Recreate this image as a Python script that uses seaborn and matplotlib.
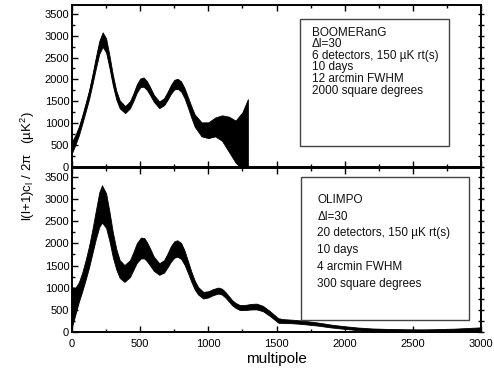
import matplotlib
matplotlib.use("Agg")
import matplotlib.pyplot as plt
import seaborn as sns
import numpy as np
import pandas as pd
from matplotlib.patches import Rectangle
from matplotlib.ticker import MultipleLocator

# ---------------- data ----------------
# BOOMERanG forecast band: centre and half-width, uK^2
boom_l = [0, 25, 50, 75, 100, 125, 150, 175, 200, 225, 250, 275, 300, 325, 350,
          390, 425, 450, 475, 500, 525, 550, 575, 600, 640, 675, 700, 725, 750,
          775, 800, 825, 850, 875, 900, 950, 1000, 1050, 1100, 1150, 1200, 1250, 1290]
boom_c = [450, 620, 820, 1080, 1360, 1650, 2000, 2380, 2730, 2910, 2780, 2400, 1980, 1640, 1430,
          1310, 1420, 1590, 1790, 1920, 1940, 1860, 1720, 1570, 1420, 1490, 1620, 1770, 1880,
          1900, 1840, 1690, 1480, 1260, 1060, 860, 840, 915, 890, 750, 580, 600, 625]
boom_e = [130, 110, 100, 95, 95, 100, 110, 125, 145, 165, 160, 140, 120, 100, 90,
          80, 80, 85, 95, 100, 105, 100, 90, 80, 75, 80, 90, 100, 110,
          115, 115, 115, 120, 130, 140, 160, 180, 215, 290, 400, 480, 650, 925]

# OLIMPO forecast band
olim_l = [0, 25, 50, 75, 100, 125, 150, 175, 200, 220, 250, 275, 300, 325, 350, 385,
          425, 450, 475, 505, 530, 550, 575, 600, 640, 675, 700, 725, 750, 772, 800,
          825, 850, 875, 900, 925, 963, 1000, 1035, 1073, 1100, 1125, 1150, 1175, 1200,
          1232, 1275, 1310, 1354, 1400, 1450, 1513, 1550, 1600, 1650, 1700, 1800, 1900,
          2000, 2100, 2200, 2300, 2400, 2500, 2600, 2700, 2800, 2900, 3000]
olim_c = [560, 700, 900, 1130, 1400, 1700, 2050, 2420, 2760, 2890, 2740, 2380, 1960, 1640, 1420, 1320,
          1430, 1600, 1780, 1895, 1890, 1810, 1680, 1540, 1420, 1480, 1610, 1760, 1860, 1885, 1830,
          1680, 1470, 1250, 1060, 930, 830, 850, 900, 935, 910, 840, 750, 660, 600,
          550, 555, 570, 575, 530, 420, 260, 245, 240, 230, 215, 180, 135,
          100, 70, 50, 40, 35, 30, 30, 35, 40, 50, 60]
olim_e = [450, 300, 220, 210, 220, 240, 270, 320, 390, 420, 390, 330, 280, 230, 200, 190,
          190, 200, 220, 235, 230, 215, 190, 160, 130, 140, 155, 175, 185, 185, 180,
          160, 135, 115, 100, 85, 75, 70, 68, 68, 66, 63, 60, 58, 56,
          56, 58, 62, 65, 60, 55, 50, 45, 40, 40, 38, 35, 32,
          30, 30, 30, 30, 30, 30, 30, 32, 35, 40, 45]

boom_text = ["BOOMERanG", "\u0394l=30", "6 detectors, 150 \u00b5K rt(s)", "10 days",
             "12 arcmin FWHM", "2000 square degrees"]
olim_text = ["OLIMPO", "\u0394l=30", "20 detectors, 150 \u00b5K rt(s)", "10 days",
             "4 arcmin FWHM", "300 square degrees"]

x_ticks = [0, 500, 1000, 1500, 2000, 2500, 3000]
y_ticks = [0, 500, 1000, 1500, 2000, 2500, 3000, 3500]

# ---------------- style ----------------
sns.set_theme(style="ticks")
plt.rcParams["font.family"] = ["Liberation Sans", "DejaVu Sans"]
plt.rcParams["mathtext.default"] = "regular"

W, H = 494, 371
fig = plt.figure(figsize=(W / 100, H / 100), dpi=100)


def px_axes(x0, y0, x1, y1):
    return fig.add_axes([x0 / W, 1 - y1 / H, (x1 - x0) / W, (y1 - y0) / H])


ax_top = px_axes(72, 5, 481, 167)
ax_bot = px_axes(72, 168, 481, 332)


def draw_panel(ax, l, c, e, lines, box, text_x, text_y0, text_dy, show_x):
    df = pd.DataFrame({"l": l, "c": c, "e": e})
    df["lo"] = df["c"] - df["e"]
    df["hi"] = df["c"] + df["e"]
    ax.fill_between(df["l"], df["lo"], df["hi"], color="black", linewidth=0.6,
                    edgecolor="black", zorder=2)
    sns.lineplot(data=df, x="l", y="c", ax=ax, color="black", linewidth=0.8, zorder=3)
    ax.set_xlim(0, 3000)
    ax.set_ylim(0, 3700)
    ax.set_xlabel("")
    ax.set_ylabel("")
    ax.xaxis.set_major_locator(MultipleLocator(500))
    ax.xaxis.set_minor_locator(MultipleLocator(250))
    ax.set_yticks(y_ticks)
    ax.yaxis.set_minor_locator(MultipleLocator(250))
    ax.set_xticks(x_ticks)
    ax.tick_params(axis="both", which="both", direction="in", top=True, right=False,
                   colors="black", labelsize=8, width=1.0)
    ax.tick_params(axis="both", which="major", length=4.5)
    ax.tick_params(axis="both", which="minor", length=2.5)
    ax.tick_params(axis="y", pad=2)
    ax.tick_params(axis="x", pad=5, labelbottom=show_x)
    for s in ax.spines.values():
        s.set_linewidth(1.4)
        s.set_color("black")
    # right side ticks crossing the spine
    ax2 = ax.twinx()
    ax2.set_ylim(0, 3700)
    ax2.set_yticks(y_ticks)
    ax2.yaxis.set_minor_locator(MultipleLocator(250))
    ax2.tick_params(axis="y", which="both", direction="inout", labelright=False,
                    width=1.0, colors="black")
    ax2.tick_params(axis="y", which="major", length=5)
    ax2.tick_params(axis="y", which="minor", length=4)
    for s in ax2.spines.values():
        s.set_visible(False)
    bx0, by0, bx1, by1 = box
    ax.add_patch(Rectangle((bx0, by0), bx1 - bx0, by1 - by0, transform=ax.transAxes,
                           facecolor="white", edgecolor="#444444", linewidth=1.0, zorder=4))
    for i, t in enumerate(lines):
        ax.text(text_x, text_y0 - i * text_dy, t, transform=ax.transAxes, fontsize=8.5,
                ha="left", va="center", color="#111111", zorder=5)


draw_panel(ax_top, boom_l, boom_c, boom_e, boom_text,
           (0.557, 0.131, 0.922, 0.914), 0.586, 0.829, 0.0716, False)
draw_panel(ax_bot, olim_l, olim_c, olim_e, olim_text,
           (0.560, 0.073, 0.971, 0.943), 0.600, 0.805, 0.102, True)

fig.text(28 / W, 1 - 166 / H, "l(l+1)c$_l$ / 2\u03c0   (\u00b5K$^2$)", rotation=90,
         ha="center", va="center", fontsize=9.5, color="black")
fig.text((72 + 481) / 2 / W, 1 - 363 / H, "multipole", ha="center", va="baseline",
         fontsize=11, color="black")

fig.savefig("out.png", dpi=100)
